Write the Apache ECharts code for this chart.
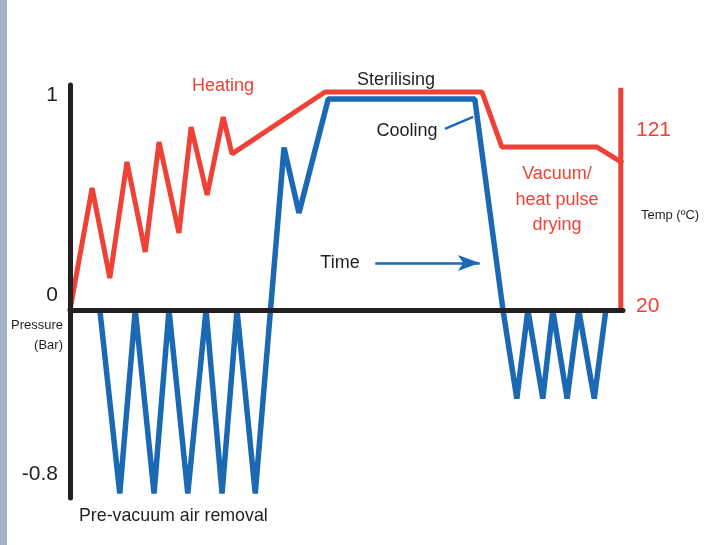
<!DOCTYPE html>
<html>
<head>
<meta charset="utf-8">
<script src="https://cdn.jsdelivr.net/npm/echarts@6/dist/echarts.min.js"></script>
<style>
  html, body { margin: 0; padding: 0; background: #fff; }
  #chart { width: 726px; height: 545px; }
</style>
</head>
<body>
<div id="chart"></div>
<script>
// time runs 0..100 (arbitrary units) along the cycle
const tempTime = [0, 4.0, 7.2, 10.3, 13.6, 16.1, 19.7, 21.9, 24.8, 27.7, 29.3, 46.1, 74.5, 78.1, 95.3, 100];
const tempValues = [20, 76.5, 34.8, 88.6, 46.9, 97.8, 55.7, 104.8, 73.3, 109.4, 92.3, 121, 121, 95.5, 95.5, 88.1];

const pressureTime = [5.4, 9.0, 11.8, 15.2, 17.9, 21.3, 24.6, 27.5, 30.2, 33.5, 38.7, 41.4, 46.7, 73.2,
  78.3, 80.8, 82.8, 85.5, 87.3, 89.9, 92.0, 94.8, 96.9];
const pressureValues = [0, -0.87, 0, -0.87, 0, -0.87, 0, -0.87, 0, -0.87, 0.77, 0.46, 1, 1,
  0, -0.42, 0, -0.42, 0, -0.42, 0, -0.42, 0];

const pressureTicks = [1, 0, -0.8];
const tempTicks = [121, 20];
const tempAxisTop = 123; // red scale bar runs from 20 up to here

const RED = '#ef4136';
const BLUE = '#1b68b4';
const INK = '#231f20';
const FONT = '"Liberation Sans", Arial, sans-serif';

const chart = echarts.init(document.getElementById('chart'), null, { renderer: 'canvas' });

// small vertical nudges so labels sit where the drawing has them
const pressureRich = {
  p1: { fontSize: 21, color: INK, fontFamily: FONT, padding: [0, 0, 8, 0] },
  p0: { fontSize: 21, color: INK, fontFamily: FONT, padding: [0, 0, 30, 0] },
  pm: { fontSize: 21, color: INK, fontFamily: FONT, padding: [0, 0, 10, 0] },
};
const tempRich = {
  t121: { fontSize: 21, color: RED, fontFamily: FONT, padding: [76, 0, 0, 0] },
  t20: { fontSize: 21, color: RED, fontFamily: FONT, padding: [0, 0, 8, 0] },
};

chart.setOption({
  animation: false,
  grid: { left: 70, right: 103, top: 85, bottom: 47 },
  xAxis: {
    type: 'value',
    min: 0,
    max: 100,
    z: 10,
    axisLine: { onZero: true, lineStyle: { color: INK, width: 5 } },
    axisTick: { show: false },
    axisLabel: { show: false },
    splitLine: { show: false },
  },
  yAxis: [
    {
      type: 'value',
      min: -0.891,
      max: 1.0664,
      z: 10,
      axisLine: { show: true, onZero: false, lineStyle: { color: INK, width: 5 } },
      axisTick: { show: false },
      splitLine: { show: false },
      axisLabel: {
        customValues: pressureTicks,
        margin: 12,
        formatter: (v) => (v === 1 ? '{p1|1}' : v === 0 ? '{p0|0}' : '{pm|' + v + '}'),
        rich: pressureRich,
      },
    },
    {
      type: 'value',
      position: 'right',
      min: -67.1,
      max: 124.24,
      axisLine: { show: false },
      axisTick: { show: false },
      splitLine: { show: false },
      axisLabel: {
        customValues: tempTicks,
        margin: 13,
        formatter: (v) => (v === 121 ? '{t121|121}' : '{t20|' + v + '}'),
        rich: tempRich,
      },
    },
  ],
  series: [
    {
      name: 'Temp scale',
      type: 'line',
      yAxisIndex: 1,
      showSymbol: false,
      silent: true,
      data: [[99.6, 20], [99.6, tempAxisTop]],
      lineStyle: { color: RED, width: 5, cap: 'butt' },
    },
    {
      name: 'Pressure',
      type: 'line',
      yAxisIndex: 0,
      showSymbol: false,
      data: pressureTime.map((t, i) => [t, pressureValues[i]]),
      lineStyle: { color: BLUE, width: 5.5, join: 'bevel' },
      markLine: {
        silent: true,
        animation: false,
        label: { show: false },
        data: [
          // Time arrow
          [
            { coord: [55.2, 0.223], symbol: 'none' },
            { coord: [74.1, 0.223], symbol: 'arrow', symbolSize: [12, 22] },
          ],
          // Cooling pointer
          [
            { coord: [67.8, 0.858], symbol: 'none' },
            { coord: [72.9, 0.915], symbol: 'none' },
          ],
        ],
        lineStyle: { color: BLUE, width: 2.5, type: 'solid' },
      },
    },
    {
      name: 'Temp',
      type: 'line',
      yAxisIndex: 1,
      showSymbol: false,
      data: tempTime.map((t, i) => [t, tempValues[i]]),
      lineStyle: { color: RED, width: 5, join: 'bevel' },
    },
  ],
  graphic: [
    { type: 'rect', left: 0, top: 0, shape: { width: 7, height: 545 }, style: { fill: '#9fb3c8' } },
    { type: 'text', x: 223, y: 86, style: { text: 'Heating', fill: RED, font: '18px ' + FONT, textAlign: 'center', textVerticalAlign: 'middle' } },
    { type: 'text', x: 396, y: 80, style: { text: 'Sterilising', fill: INK, font: '18px ' + FONT, textAlign: 'center', textVerticalAlign: 'middle' } },
    { type: 'text', x: 407, y: 131, style: { text: 'Cooling', fill: INK, font: '18px ' + FONT, textAlign: 'center', textVerticalAlign: 'middle' } },
    { type: 'text', x: 340, y: 263, style: { text: 'Time', fill: INK, font: '18px ' + FONT, textAlign: 'center', textVerticalAlign: 'middle' } },
    { type: 'text', x: 557, y: 200, style: { text: 'Vacuum/\nheat pulse\ndrying', fill: RED, font: '18px ' + FONT, lineHeight: 25.5, textAlign: 'center', textVerticalAlign: 'middle' } },
    { type: 'text', x: 670, y: 215, style: { text: 'Temp (ºC)', fill: INK, font: '13px ' + FONT, textAlign: 'center', textVerticalAlign: 'middle' } },
    { type: 'text', x: 63, y: 335, style: { text: 'Pressure\n(Bar)', fill: INK, font: '13px ' + FONT, lineHeight: 20, textAlign: 'right', textVerticalAlign: 'middle' } },
    { type: 'text', x: 79, y: 516, style: { text: 'Pre-vacuum air removal', fill: INK, font: '17.8px ' + FONT, textAlign: 'left', textVerticalAlign: 'middle' } },
  ],
});
</script>
</body>
</html>
